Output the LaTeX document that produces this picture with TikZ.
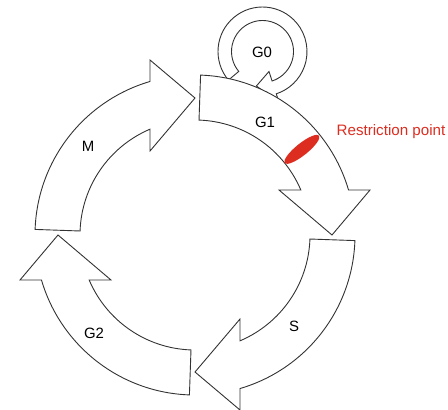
\documentclass[tikz,border=0pt]{standalone}
\usepackage{fontspec}
\setmainfont{Liberation Sans}
\definecolor{rpred}{RGB}{220,45,32}
\begin{document}
\begin{tikzpicture}[x=1bp,y=1bp,
  phase/.style={draw=black!80,fill=white,line width=0.9bp,line join=miter},
  every node/.style={inner sep=0pt,font=\fontsize{15}{18}\selectfont}]
  \useasboundingbox (-195,-174) rectangle (253,235);
  % G0 loop, its ends hidden behind G1
  \begin{scope}[shift={(67.5,183.5)}]
    \draw[phase] (220:44.5) arc[start angle=220,end angle=-72,radius=44.5bp] --
          (-72:54) -- (-100:35) -- (-72:21) --
          (-72:31) arc[start angle=-72,end angle=220,radius=31bp] -- cycle;
  \end{scope}
  % M, G1, S, G2
  \foreach \r in {90,0,-90,-180}{
    \draw[phase,rotate=\r] (88:160) arc[start angle=88,end angle=16.33,radius=160bp] --
          (175,45) -- (137,0) -- (84,45) --
          (23.03:115) arc[start angle=23.03,end angle=88,radius=115bp] -- cycle;
  }
  \fill[rpred,rotate=38.7] (0:137) ellipse[x radius=22bp,y radius=6bp];
  \node (g0) at (67,183) {G0};
  \node (g1) at (70,113) {G1};
  \node (m) at (-107,89) {M};
  \node (s) at (99,-91) {S};
  \node (g2) at (-101,-98) {G2};
  \node[text=rpred,anchor=base west,font=\fontsize{15.2}{18}\selectfont] (rp) at (141.5,99.3) {Restriction point};
\end{tikzpicture}
\end{document}
